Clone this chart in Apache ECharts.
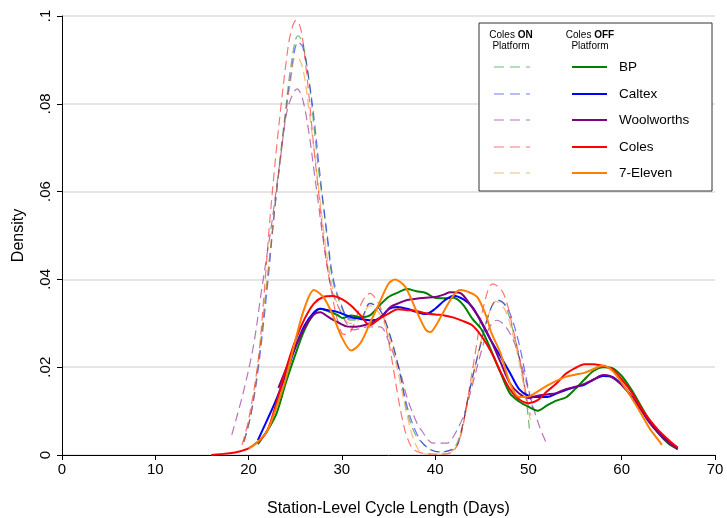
<!DOCTYPE html>
<html>
<head>
<meta charset="utf-8">
<script src="https://cdn.jsdelivr.net/npm/echarts@6/dist/echarts.min.js"></script>
<style>
html,body{margin:0;padding:0;background:#fff;}
#c{width:727px;height:518px;}
</style>
</head>
<body>
<div id="c"></div>
<script>
// ---------- DATA ----------
const firms = ['BP', 'Caltex', 'Woolworths', 'Coles', '7-Eleven'];
const xTicks = [0, 10, 20, 30, 40, 50, 60, 70];
const yTicks = [0, 0.02, 0.04, 0.06, 0.08, 0.1];
const yTickLabels = ['0', '.02', '.04', '.06', '.08', '.1'];
const xTitle = 'Station-Level Cycle Length (Days)';
const yTitle = 'Density';
const legendHeaderOn = ['Coles ', 'ON', 'Platform'];
const legendHeaderOff = ['Coles ', 'OFF', 'Platform'];

// Coles ON Platform (dashed)
const bpOn = [[19.5,0.003],[20.2,0.0087],[21,0.02],[22,0.04],[22.5,0.05],[23,0.06],[23.5,0.07],[24,0.079],[24.5,0.088],[25.3,0.0955],[25.8,0.094],[26.5,0.085],[27,0.075],[27.5,0.065],[28,0.057],[28.5,0.048],[29,0.04],[29.8,0.0346],[30.9,0.0307],[32,0.031],[33,0.0346],[34.1,0.033],[35.2,0.027],[36.2,0.0187],[37,0.01],[37.8,0.005],[38.5,0.003],[39.5,0.0012],[40.5,0.0007],[41.5,0.001],[42.3,0.0025],[43,0.0073],[43.7,0.0148],[44.8,0.0246],[45.9,0.033],[46.6,0.0353],[47.5,0.034],[48.5,0.027],[49.3,0.019],[49.8,0.012],[50.1,0.006]];
const caltexOn = [[19.5,0.003],[20.2,0.0087],[21,0.019],[22,0.038],[22.8,0.056],[23.5,0.069],[24,0.078],[24.5,0.086],[25.3,0.094],[25.8,0.093],[26.5,0.085],[27,0.077],[27.5,0.067],[28,0.0574],[28.5,0.049],[29,0.041],[29.8,0.035],[30.9,0.031],[32,0.031],[33,0.0345],[34.1,0.033],[35.2,0.027],[36.2,0.019],[37,0.011],[38,0.005],[39,0.002],[40.5,0.0007],[41.5,0.001],[42.3,0.0018],[43,0.0073],[43.7,0.0148],[44.8,0.0246],[45.9,0.033],[46.7,0.0353],[47.7,0.0337],[48.8,0.027],[49.8,0.0171],[50.5,0.0103]];
const woolworthsOn = [[18.2,0.0046],[19.4,0.014],[20.5,0.0246],[21.4,0.0376],[22,0.046],[22.5,0.053],[23,0.061],[23.5,0.069],[24,0.077],[24.5,0.081],[25.2,0.0834],[25.8,0.081],[26.5,0.073],[27,0.065],[27.5,0.057],[28,0.049],[28.5,0.042],[29,0.037],[29.8,0.033],[30.5,0.03],[31.2,0.0285],[32,0.0288],[32.7,0.0292],[34.1,0.0292],[35,0.026],[35.5,0.0232],[36.2,0.0194],[37,0.013],[38,0.0075],[38.5,0.0057],[39.8,0.0027],[41.3,0.0027],[41.9,0.004],[43,0.0087],[44,0.016],[45,0.024],[45.8,0.029],[46.6,0.0307],[48,0.0278],[49.1,0.0216],[50.2,0.0132],[51.2,0.0064],[52,0.0023]];
const colesOn = [[19.3,0.0023],[20,0.008],[21,0.021],[21.6,0.035],[22.3,0.054],[23,0.07],[23.5,0.08],[24,0.089],[24.5,0.096],[25.1,0.099],[25.6,0.097],[26.2,0.0875],[27,0.07],[27.5,0.06],[28,0.05],[28.5,0.042],[29,0.036],[29.5,0.031],[30.2,0.0275],[30.9,0.028],[31.5,0.031],[32.2,0.035],[33,0.0368],[33.8,0.035],[34.4,0.032],[35,0.026],[35.5,0.02],[36,0.0135],[36.5,0.008],[37,0.004],[37.6,0.0015],[38.5,0.0005],[40,0.0002],[41,0.0002],[42,0.001],[42.7,0.004],[43.4,0.0118],[44.3,0.0232],[45.1,0.033],[46.2,0.039],[47.3,0.0369],[48.3,0.0292],[49.3,0.0194],[49.8,0.0132],[50.2,0.009]];
const elevenOn = [[19.5,0.003],[20.2,0.009],[21,0.02],[22,0.04],[23,0.06],[23.5,0.069],[24,0.078],[24.5,0.085],[25,0.0905],[25.5,0.09],[26,0.086],[26.5,0.078],[27,0.07],[27.5,0.061],[28,0.052],[28.5,0.044],[29,0.038],[29.8,0.033],[30.9,0.03],[32,0.031],[33,0.034],[34.1,0.032],[35.2,0.026],[36.2,0.017],[37,0.009],[37.8,0.003],[38.7,0.0003],[40,0.0002],[41.5,0.0005],[42.3,0.002],[43,0.007],[43.7,0.014],[44.8,0.025],[45.9,0.033],[46.5,0.035],[47.5,0.033],[48.5,0.026],[49.3,0.018],[49.8,0.012],[50.2,0.008]];

// Coles OFF Platform (solid)
const bpOff = [[21,0.0025],[22,0.0055],[23,0.0095],[24,0.0165],[25,0.0228],[26,0.0285],[27,0.0322],[27.7,0.0333],[28.5,0.0328],[29.5,0.0319],[30.1,0.0312],[31,0.0318],[32,0.0314],[33,0.0318],[34,0.034],[35,0.036],[36,0.037],[37,0.0378],[38,0.0373],[39,0.0369],[40,0.0358],[41,0.0357],[42,0.0358],[43,0.0342],[44,0.031],[45,0.0285],[46,0.0238],[47,0.0188],[48,0.0141],[49,0.0122],[50,0.011],[51,0.0101],[52,0.0113],[53,0.0124],[54,0.0131],[55,0.015],[56,0.0172],[57,0.0192],[58,0.02],[59,0.0198],[60,0.018],[61,0.015],[62,0.0114],[63,0.0078],[64,0.0048],[65,0.0026],[66,0.0013]];
const caltexOff = [[21,0.0034],[22,0.008],[23,0.0128],[24,0.0183],[25,0.0245],[26,0.0295],[27,0.0325],[27.7,0.0333],[28.5,0.033],[29.5,0.0326],[31,0.0314],[32,0.031],[33,0.0307],[34,0.031],[35,0.0332],[36,0.0337],[37,0.0333],[38,0.0326],[39,0.0321],[40,0.0333],[41,0.0352],[42,0.0363],[43,0.0355],[44,0.0337],[45,0.03],[46,0.026],[47,0.0225],[48,0.0188],[49,0.015],[50,0.0135],[51,0.0132],[52,0.0132],[53,0.014],[54,0.0148],[55,0.0155],[56,0.016],[57,0.0172],[58,0.018],[59,0.0178],[60,0.016],[61,0.0135],[62,0.0107],[63,0.0074],[64,0.005],[65,0.003],[66,0.0016]];
const woolworthsOff = [[23.2,0.0153],[24,0.0195],[25,0.0245],[26,0.029],[27,0.032],[27.7,0.0325],[28.5,0.0315],[29.5,0.0303],[30.5,0.0293],[31.5,0.0292],[32.5,0.0296],[33.5,0.0305],[34.5,0.032],[35.2,0.0337],[36,0.0345],[37,0.0353],[38,0.0356],[39,0.0358],[40,0.036],[41,0.0366],[41.6,0.0371],[42.5,0.037],[43,0.0364],[44,0.0335],[45,0.0302],[46,0.026],[47,0.0212],[48,0.0164],[49,0.014],[50,0.013],[51,0.0135],[52,0.0138],[53,0.0141],[54,0.015],[55,0.0155],[56,0.0162],[57,0.0172],[58,0.0182],[58.7,0.018],[60,0.016],[61,0.0135],[62,0.0105],[63,0.0073],[64,0.0048],[65,0.0028],[66,0.0014]];
const colesOff = [[16,0],[17,0.0002],[18,0.0004],[19,0.0008],[20,0.0015],[21,0.003],[22,0.0055],[23,0.012],[24,0.0195],[25,0.026],[26,0.031],[27,0.0345],[28,0.036],[29,0.0362],[30,0.0355],[31,0.034],[32,0.0318],[33,0.0296],[34,0.031],[35,0.0322],[36,0.0332],[37,0.033],[38,0.0328],[39,0.0323],[40,0.032],[41,0.0318],[42,0.0313],[43,0.0305],[44,0.0295],[45,0.027],[46,0.0235],[47,0.019],[48,0.015],[49,0.0127],[50,0.0118],[51,0.0125],[52,0.0145],[53,0.0163],[54,0.0185],[55,0.0198],[56,0.0207],[57,0.0207],[58,0.0203],[59,0.0195],[60,0.0172],[61,0.0145],[62,0.011],[63,0.008],[64,0.0055],[65,0.0035],[66,0.0017]];
const elevenOff = [[20,0.0015],[21,0.003],[22,0.0055],[23,0.011],[24,0.0175],[25,0.026],[26,0.0335],[27,0.0376],[28,0.036],[29,0.032],[30,0.0268],[31,0.0238],[32,0.0255],[33,0.030],[34,0.0345],[35,0.039],[35.7,0.040],[36.5,0.039],[37,0.0376],[38,0.0328],[39,0.0285],[39.5,0.028],[40,0.0292],[41,0.033],[42,0.0365],[42.7,0.0376],[43.5,0.0372],[44.5,0.036],[45.5,0.0315],[46,0.028],[47,0.0232],[48,0.0165],[49,0.0132],[50,0.0133],[51,0.0145],[52,0.0158],[53,0.0169],[54,0.0178],[55,0.0183],[56,0.0187],[57,0.0196],[58,0.0204],[59,0.0192],[60,0.0165],[61,0.0132],[62,0.0097],[63,0.006],[64,0.0032],[64.3,0.0023]];

const onData = [bpOn, caltexOn, woolworthsOn, colesOn, elevenOn];
const offData = [bpOff, caltexOff, woolworthsOff, colesOff, elevenOff];

// ---------- STYLE ----------
const colors = ['#008000', '#0000ff', '#800080', '#ff0000', '#ff8000'];
const FONT = '"Liberation Sans", Arial, Helvetica, sans-serif';
const dash = [9, 5];
const dashOpacity = 0.55;

const series = [];
onData.forEach((d, i) => {
  series.push({
    name: firms[i] + ' (Coles ON Platform)',
    type: 'line', data: d, showSymbol: false, smooth: 0.35,
    lineStyle: { color: colors[i], width: 1.2, type: dash, opacity: dashOpacity },
    itemStyle: { color: colors[i] }, z: 2
  });
});
offData.forEach((d, i) => {
  series.push({
    name: firms[i] + ' (Coles OFF Platform)',
    type: 'line', data: d, showSymbol: false, smooth: 0.3,
    lineStyle: { color: colors[i], width: 2 },
    itemStyle: { color: colors[i] }, z: 3
  });
});

// ---------- LEGEND (graphic) ----------
const L = { left: 479, top: 23, w: 233, h: 168 };
const rowY = [67, 94, 120, 147, 173];
const richHdr = { n: { fontFamily: FONT, fontSize: 10, fill: '#000', lineHeight: 11 },
                  b: { fontFamily: FONT, fontSize: 10, fontWeight: 'bold', fill: '#000', lineHeight: 11 } };
const gElems = [
  { type: 'rect', shape: { x: L.left, y: L.top, width: L.w, height: L.h },
    style: { fill: '#fff', stroke: '#333', lineWidth: 1 }, z: 10 },
  { type: 'text', z: 11, style: { x: 511, y: 30, align: 'center', verticalAlign: 'top',
      text: '{n|' + legendHeaderOn[0] + '}{b|' + legendHeaderOn[1] + '}\n{n|' + legendHeaderOn[2] + '}', rich: richHdr } },
  { type: 'text', z: 11, style: { x: 590, y: 30, align: 'center', verticalAlign: 'top',
      text: '{n|' + legendHeaderOff[0] + '}{b|' + legendHeaderOff[1] + '}\n{n|' + legendHeaderOff[2] + '}', rich: richHdr } }
];
firms.forEach((f, i) => {
  gElems.push({ type: 'line', z: 11, shape: { x1: 494, y1: rowY[i], x2: 530, y2: rowY[i] },
    style: { stroke: colors[i], lineWidth: 1.2, lineDash: [10, 6], opacity: dashOpacity } });
  gElems.push({ type: 'line', z: 11, shape: { x1: 572, y1: rowY[i], x2: 607, y2: rowY[i] },
    style: { stroke: colors[i], lineWidth: 2 } });
  gElems.push({ type: 'text', z: 11, style: { x: 619, y: rowY[i], text: f, verticalAlign: 'middle',
    fontFamily: FONT, fontSize: 13.5, fill: '#000' } });
});

const chart = echarts.init(document.getElementById('c'), null, { renderer: 'canvas' });
chart.setOption({
  animation: false,
  backgroundColor: '#fff',
  grid: { left: 62, right: 12, top: 16, bottom: 63, containLabel: false, outerBoundsMode: 'none' },
  xAxis: {
    type: 'value', min: xTicks[0], max: xTicks[xTicks.length - 1], interval: 10,
    name: xTitle, nameLocation: 'middle', nameGap: 46,
    nameTextStyle: { fontFamily: FONT, fontSize: 16, color: '#000' },
    axisLine: { show: true, onZero: false, lineStyle: { color: '#000', width: 1 } },
    axisTick: { show: true, length: 5, lineStyle: { color: '#000' } },
    axisLabel: { fontFamily: FONT, fontSize: 15, color: '#000', margin: 7 },
    splitLine: { show: false }
  },
  yAxis: {
    type: 'value', min: yTicks[0], max: yTicks[yTicks.length - 1], interval: 0.02,
    name: yTitle, nameLocation: 'middle', nameGap: 35,
    nameTextStyle: { fontFamily: FONT, fontSize: 16, color: '#000' },
    axisLine: { show: true, lineStyle: { color: '#000', width: 1 } },
    axisTick: { show: true, length: 5, lineStyle: { color: '#000' } },
    axisLabel: { fontFamily: FONT, fontSize: 15, color: '#000', rotate: 90, margin: 9,
      formatter: v => { const k = yTicks.findIndex(t => Math.abs(t - v) < 1e-9); return k >= 0 ? yTickLabels[k] : ''; } },
    splitLine: { show: true, lineStyle: { color: '#dcdcdc', width: 1.5 } }
  },
  series: series,
  graphic: gElems
});
</script>
</body>
</html>
